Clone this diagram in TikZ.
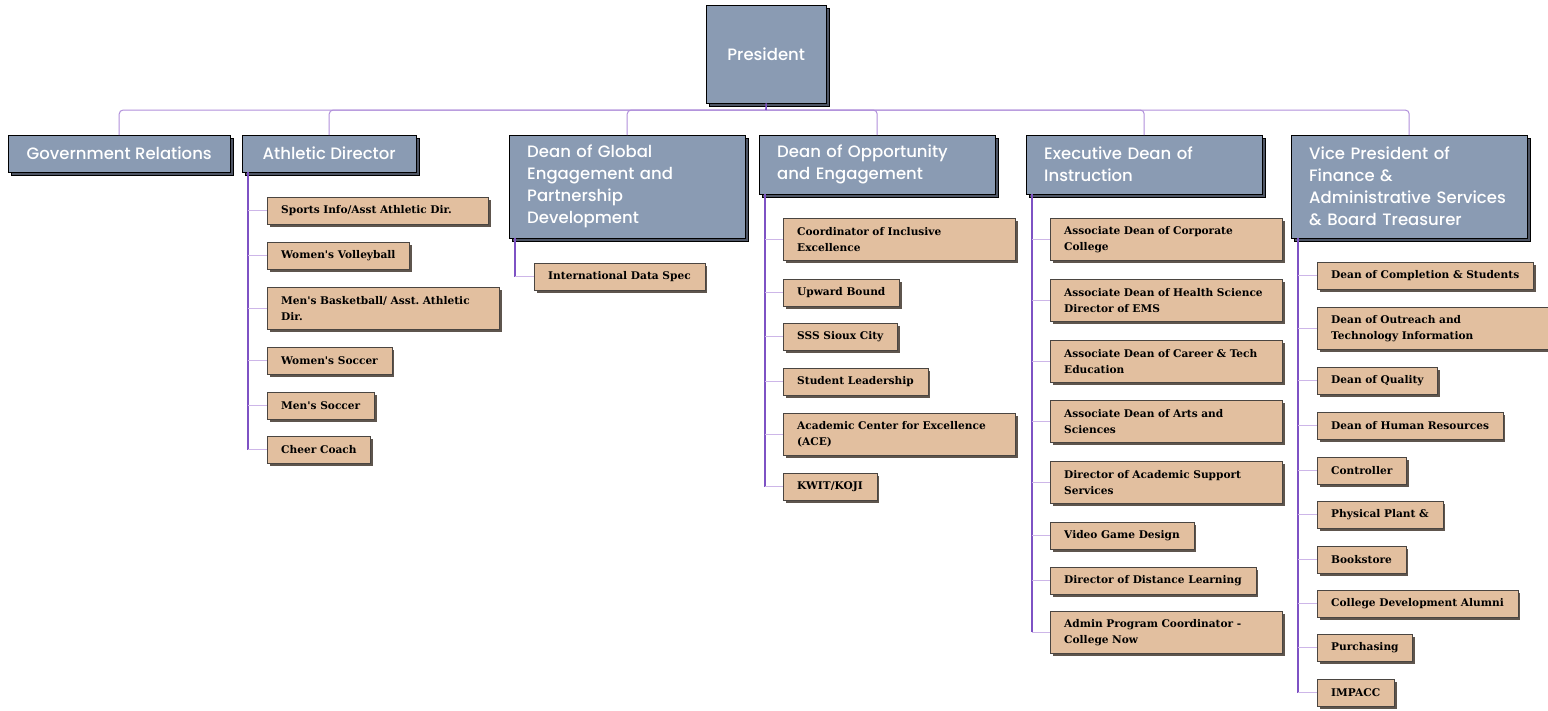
\documentclass[tikz,border=0pt]{standalone}
\usepackage{fontspec}
\usetikzlibrary{shadows}
\newfontfamily\headfont{Poppins Medium}
\newfontfamily\stafffont{DejaVu Serif}
\frenchspacing
\hyphenpenalty=10000
\definecolor{deptblue}{HTML}{8A9BB3}
\definecolor{deptshade}{HTML}{4E5564}
\definecolor{stafftan}{HTML}{E2BF9F}
\definecolor{staffline}{HTML}{4A4541}
\definecolor{staffshade}{HTML}{5E554D}
\definecolor{buspurple}{HTML}{B08FDA}
\definecolor{trunkpurple}{HTML}{7E52C4}
\definecolor{twigpurple}{HTML}{CDB6E8}
\tikzset{
  dept/.style={draw=black, fill=deptblue, text=white, font={\headfont\fontsize{16.5}{22}\selectfont},
    align=left, anchor=north west, inner xsep=18pt, inner ysep=2pt, minimum height=37pt,
    drop shadow={fill=deptshade, draw=black, opacity=1, shadow xshift=3pt, shadow yshift=-3pt}},
  wide/.style={text width=200pt},
  staff/.style={draw=staffline, fill=stafftan, font={\stafffont\bfseries\fontsize{10.6}{16}\selectfont},
    align=left, anchor=north west, inner xsep=14pt, inner ysep=2pt, minimum height=27pt,
    drop shadow={fill=staffshade, opacity=1, shadow xshift=2.5pt, shadow yshift=-2.5pt}},
  tall/.style={text width=204pt, minimum height=42pt},
  bus/.style={draw=buspurple, line width=1pt, rounded corners=4pt},
  hang/.style={to path={|- (\tikztotarget)}},
  trunk/.style={draw=trunkpurple, line width=1.6pt},
  twig/.style={draw=twigpurple, line width=1pt}
}
\begin{document}
\begin{tikzpicture}[x=1pt,y=-1pt]
  \useasboundingbox (0,0) rectangle (1548,710);

  \draw (706,5) node [dept, align=center, minimum width=120pt, minimum height=98pt] (pres) {President};
  \coordinate (bus) at (766,110);

  \draw (8,135) node [dept, minimum width=222pt] (gov) {Government Relations};
  \draw (242,135) node [dept, minimum width=174pt] (ath) {Athletic Director};
  \draw (509,135) node [dept, wide, minimum height=103pt] (glob) {Dean of Global\\Engagement and\\Partnership\\Development};
  \draw (759,135) node [dept, wide, minimum height=59pt] (opp) {Dean of Opportunity\\and Engagement};
  \draw (1026,135) node [dept, wide, minimum height=59pt] (exec) {Executive Dean of\\Instruction};
  \draw (1291,135) node [dept, wide, minimum height=103pt] (vp) {Vice President of\\Finance \&\\Administrative Services\\\& Board Treasurer};

  \draw[bus] (gov.north) |- (bus) -| (vp.north);
  \path[bus]
    (ath.north) edge [hang] (bus)
    (glob.north) edge [hang] (bus)
    (opp.north) edge [hang] (bus)
    (exec.north) edge [hang] (bus);
  \draw[trunk] (pres.south) -- (bus);

  \draw (267,197) node [staff, text width=193pt] (ath1) {Sports Info/Asst Athletic Dir.};
  \draw (267,242) node [staff] (ath2) {Women's Volleyball};
  \draw (267,287) node [staff, tall] (ath3) {Men's Basketball/ Asst. Athletic\\Dir.};
  \draw (267,347) node [staff] (ath4) {Women's Soccer};
  \draw (267,392) node [staff] (ath5) {Men's Soccer};
  \draw (267,436) node [staff] (ath6) {Cheer Coach};

  \draw (534,263) node [staff] (glob1) {International Data Spec};

  \draw (783,218) node [staff, tall] (opp1) {Coordinator of Inclusive\\Excellence};
  \draw (783,279) node [staff] (opp2) {Upward Bound};
  \draw (783,323) node [staff] (opp3) {SSS Sioux City};
  \draw (783,368) node [staff] (opp4) {Student Leadership};
  \draw (783,413) node [staff, tall] (opp5) {Academic Center for Excellence\\(ACE)};
  \draw (783,473) node [staff] (opp6) {KWIT/KOJI};

  \draw (1050,218) node [staff, tall] (exec1) {Associate Dean of Corporate\\College};
  \draw (1050,279) node [staff, tall] (exec2) {Associate Dean of Health Science\\Director of EMS};
  \draw (1050,340) node [staff, tall] (exec3) {Associate Dean of Career \& Tech\\Education};
  \draw (1050,400) node [staff, tall] (exec4) {Associate Dean of Arts and\\Sciences};
  \draw (1050,461) node [staff, tall] (exec5) {Director of Academic Support\\Services};
  \draw (1050,522) node [staff] (exec6) {Video Game Design};
  \draw (1050,567) node [staff] (exec7) {Director of Distance Learning};
  \draw (1050,611) node [staff, tall] (exec8) {Admin Program Coordinator -\\College Now};

  \draw (1317,262) node [staff] (vp1) {Dean of Completion \& Students};
  \draw (1317,307) node [staff, tall] (vp2) {Dean of Outreach and\\Technology Information};
  \draw (1317,367) node [staff] (vp3) {Dean of Quality};
  \draw (1317,412) node [staff] (vp4) {Dean of Human Resources};
  \draw (1317,457) node [staff] (vp5) {Controller};
  \draw (1317,501) node [staff] (vp6) {Physical Plant \&};
  \draw (1317,546) node [staff] (vp7) {Bookstore};
  \draw (1317,590) node [staff] (vp8) {College Development Alumni};
  \draw (1317,634) node [staff] (vp9) {Purchasing};
  \draw (1317,679) node [staff] (vp10) {IMPACC};

  \coordinate (athT) at ([xshift=6pt]ath.south west);
  \coordinate (globT) at ([xshift=6pt]glob.south west);
  \coordinate (oppT) at ([xshift=6pt]opp.south west);
  \coordinate (execT) at ([xshift=6pt]exec.south west);
  \coordinate (vpT) at ([xshift=7pt]vp.south west);

  \draw[trunk] (athT) -- (athT |- ath6.west);
  \draw[trunk] (globT) -- (globT |- glob1.west);
  \draw[trunk] (oppT) -- (oppT |- opp6.west);
  \draw[trunk] (execT) -- (execT |- exec8.west);
  \draw[trunk] (vpT) -- (vpT |- vp10.west);

  \foreach \c in {ath1,ath2,ath3,ath4,ath5,ath6}
    \draw[twig] (athT |- \c.west) -- (\c.west);
  \draw[twig] (globT |- glob1.west) -- (glob1.west);
  \foreach \c in {opp1,opp2,opp3,opp4,opp5,opp6}
    \draw[twig] (oppT |- \c.west) -- (\c.west);
  \foreach \c in {exec1,exec2,exec3,exec4,exec5,exec6,exec7,exec8}
    \draw[twig] (execT |- \c.west) -- (\c.west);
  \foreach \c in {vp1,vp2,vp3,vp4,vp5,vp6,vp7,vp8,vp9,vp10}
    \draw[twig] (vpT |- \c.west) -- (\c.west);
\end{tikzpicture}
\end{document}
